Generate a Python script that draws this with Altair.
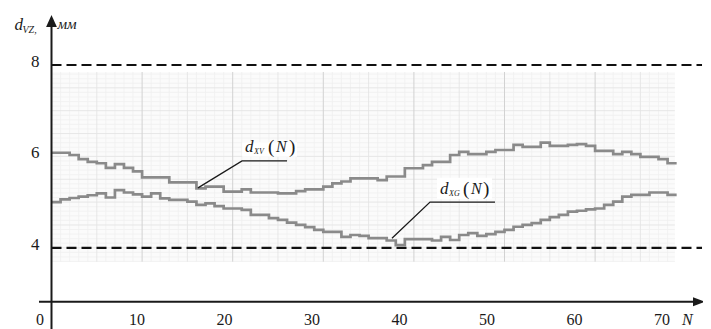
import altair as alt
import numpy as np
import pandas as pd

# ---------------- data ----------------
N = list(range(70))
d_xv = [6.08, 6.08, 6.03, 5.94, 5.88, 5.85, 5.75, 5.83, 5.75, 5.67,
        5.54, 5.54, 5.54, 5.43, 5.43, 5.43, 5.30, 5.34, 5.34, 5.23,
        5.23, 5.28, 5.21, 5.21, 5.21, 5.19, 5.19, 5.24, 5.28, 5.28,
        5.34, 5.41, 5.45, 5.52, 5.52, 5.52, 5.48, 5.56, 5.56, 5.74,
        5.74, 5.81, 5.88, 5.88, 6.03, 6.10, 6.05, 6.05, 6.10, 6.14,
        6.14, 6.25, 6.21, 6.21, 6.30, 6.23, 6.23, 6.25, 6.27, 6.23,
        6.12, 6.12, 6.05, 6.10, 6.05, 5.99, 5.99, 5.94, 5.85, 5.85]
d_xg = [5.00, 5.06, 5.09, 5.12, 5.15, 5.19, 5.10, 5.26, 5.21, 5.17,
        5.12, 5.19, 5.08, 5.05, 5.05, 5.01, 4.94, 4.97, 4.91, 4.86,
        4.86, 4.83, 4.72, 4.72, 4.65, 4.61, 4.55, 4.50, 4.45, 4.39,
        4.35, 4.35, 4.24, 4.28, 4.26, 4.21, 4.21, 4.16, 4.06, 4.19,
        4.19, 4.19, 4.16, 4.24, 4.17, 4.28, 4.32, 4.26, 4.30, 4.35,
        4.39, 4.46, 4.50, 4.54, 4.61, 4.67, 4.72, 4.79, 4.81, 4.84,
        4.86, 4.94, 5.01, 5.12, 5.16, 5.16, 5.21, 5.21, 5.16, 5.16]
x_tick_labels = [0, 10, 20, 30, 40, 50, 60, 70]
y_tick_labels = [4, 6, 8]
limits = [4, 8]

# ---------------- scales ----------------
XMIN, XMAX = -4.801, 71.909
YMIN, YMAX = 2.398, 9.247
xs = alt.Scale(domain=[XMIN, XMAX], nice=False, zero=False)
ys = alt.Scale(domain=[YMIN, YMAX], nice=False, zero=False)
FONT = "Liberation Serif, Times New Roman, DejaVu Serif, serif"
INK = "#1a1a1a"


def X(f="N"):
    return alt.X(f, type="quantitative", scale=xs, axis=None)


def Y(f="v"):
    return alt.Y(f, type="quantitative", scale=ys, axis=None)


# ---------------- grid (millimetre paper) ----------------
G_X0, G_X1, G_Y0, G_Y1 = 0.0, 68.8, 3.696, 7.847
bg = alt.Chart(pd.DataFrame({"a": [G_X0], "b": [G_X1], "c": [G_Y0], "d": [G_Y1]})).mark_rect(
    color="#fbfbfb").encode(x=X("a"), x2="b", y=Y("c"), y2="d")


def vgrid(vals, color, w):
    df = pd.DataFrame({"N": vals, "y1": G_Y0, "y2": G_Y1})
    return alt.Chart(df).mark_rule(color=color, strokeWidth=w).encode(x=X("N"), y=Y("y1"), y2="y2")


def hgrid(vals, color, w):
    df = pd.DataFrame({"v": vals, "x1": G_X0, "x2": G_X1})
    return alt.Chart(df).mark_rule(color=color, strokeWidth=w).encode(y=Y("v"), x=X("x1"), x2="x2")


vmin = [n for n in np.arange(1, 69, 1.0) if n % 5 != 0]
vmid = [n for n in np.arange(5, 69, 5.0) if n % 10 != 0]
vmaj = list(np.arange(10, 69, 10.0))
hmin = [round(v, 2) for v in np.arange(3.7, 7.85, 0.1) if round(v * 10) % 5 != 0]
hmid = [round(v, 2) for v in np.arange(4.0, 7.85, 0.5)]

grid = [bg,
        vgrid(vmin, "#f0f0f0", 0.8), hgrid(hmin, "#f0f0f0", 0.8),
        vgrid(vmid, "#e4e4e4", 0.9), hgrid(hmid, "#e4e4e4", 0.9),
        vgrid(vmaj, "#d2d2d2", 1.0)]

# ---------------- curves ----------------
curves_df = pd.concat([
    pd.DataFrame({"N": N, "v": d_xv, "s": "xv"}),
    pd.DataFrame({"N": N, "v": d_xg, "s": "xg"}),
])
curves = alt.Chart(curves_df).mark_line(
    interpolate="step-after", color="#8a8a8a", strokeWidth=2.7
).encode(x=X("N"), y=Y("v"), detail="s:N")

# ---------------- dashed limit lines ----------------
lim_df = pd.DataFrame({"v": limits, "x1": 0.0, "x2": 71.8})
lims = alt.Chart(lim_df).mark_rule(color="#111111", strokeWidth=2.2, strokeDash=[10, 5]).encode(
    y=Y("v"), x=X("x1"), x2="x2")

# ---------------- axes ----------------
AX_Y = 2.821
xaxis = alt.Chart(pd.DataFrame({"x1": [-1.38], "x2": [71.0], "v": [AX_Y]})).mark_rule(
    color=INK, strokeWidth=2).encode(x=X("x1"), x2="x2", y=Y("v"))
yaxis = alt.Chart(pd.DataFrame({"N": [0.0], "y1": [2.222], "y2": [8.9]})).mark_rule(
    color=INK, strokeWidth=2).encode(x=X("N"), y=Y("y1"), y2="y2")
arrow_up = alt.Chart(pd.DataFrame({"N": [0.0], "v": [8.963]})).mark_point(
    shape="M0,-1L0.9,1L-0.9,1Z", filled=True, size=144, color=INK, opacity=1, strokeWidth=0
).encode(x=X("N"), y=Y("v"))
arrow_right = alt.Chart(pd.DataFrame({"N": [71.47], "v": [AX_Y]})).mark_point(
    shape="M1,0L-1,0.75L-1,-0.75Z", filled=True, size=144, color=INK, opacity=1, strokeWidth=0
).encode(x=X("N"), y=Y("v"))


def label(s, n, v, dx, dy, size, italic=True, align="left"):
    return alt.Chart(pd.DataFrame({"N": [n], "v": [v]})).mark_text(
        text=s, dx=dx, dy=dy, fontSize=size, font=FONT,
        fontStyle="italic" if italic else "normal",
        align=align, baseline="alphabetic", color=INK
    ).encode(x=X("N"), y=Y("v"))


# x tick labels (label spacing in the source is slightly tighter than the grid)
xt_df = pd.DataFrame({"L": x_tick_labels})
xticks = alt.Chart(xt_df).transform_filter("datum.L > 0").transform_calculate(
    pos="(49.5 + 8.75 * datum.L - 51.5) / 9.06", v=str(AX_Y)
).mark_text(fontSize=16, font=FONT, align="center", baseline="alphabetic", dy=23, color=INK).encode(
    x=X("pos"), y=Y("v"), text="L:N")
xtick0 = alt.Chart(xt_df).transform_filter("datum.L == 0").transform_calculate(
    v=str(AX_Y)
).mark_text(fontSize=16, font=FONT, align="center", baseline="alphabetic", dy=23, dx=-11.5,
            color=INK).encode(x=X("L"), y=Y("v"), text="L:N")

yt_df = pd.DataFrame({"v": y_tick_labels})
yticks = alt.Chart(yt_df).transform_calculate(N="0").mark_text(
    fontSize=17, font=FONT, align="right", baseline="alphabetic", dx=-12, dy=2, color=INK
).encode(x=X("N"), y=Y("v"), text="v:N")

axis_titles = [
    label("d", 0, 9.0, -37, 11, 17),
    label("VZ,", 0, 9.0, -29, 14, 10),
    label("мм", 0, 9.0, 6, 10, 15),
    label("N", 71.47, AX_Y, -17, 23, 16),
]

# ---------------- curve annotations ----------------
lead1 = pd.DataFrame({"N": [16.17, 21.03, 26.0], "v": [5.31, 5.90, 5.90], "o": [0, 1, 2]})
lead2 = pd.DataFrame({"N": [37.58, 41.78, 48.95], "v": [4.21, 5.00, 5.00], "o": [0, 1, 2]})
leaders = [alt.Chart(d).mark_line(color=INK, strokeWidth=1.3).encode(x=X("N"), y=Y("v"), order="o:Q")
           for d in (lead1, lead2)]
boxes = alt.Chart(pd.DataFrame({"a": [21.05, 42.55], "b": [27.1, 48.62],
                                "c": [5.99, 5.07], "d": [6.31, 5.53]})).mark_rect(
    color="white").encode(x=X("a"), x2="b", y=Y("c"), y2="d")

ann = [
    label("d", 21.03, 5.90, 3, -9, 17), label("XV", 21.03, 5.90, 12, -7, 8),
    label("(", 21.03, 5.90, 26, -8, 19, italic=False), label("N", 21.03, 5.90, 34, -9, 16),
    label(")", 21.03, 5.90, 47, -8, 19, italic=False),
    label("d", 41.78, 5.00, 10, -8, 17), label("XG", 41.78, 5.00, 19, -6, 8),
    label("(", 41.78, 5.00, 33, -7, 19, italic=False), label("N", 41.78, 5.00, 41, -8, 16),
    label(")", 41.78, 5.00, 53, -7, 19, italic=False),
]

chart = alt.layer(
    *grid, lims, curves, boxes, *leaders, *ann,
    xaxis, yaxis, arrow_up, arrow_right, xticks, xtick0, yticks, *axis_titles
).properties(
    width=695, height=313,
    autosize=alt.AutoSizeParams(type="none"),
    padding={"left": 0, "top": 0, "right": 0, "bottom": 8},
).configure_view(stroke=None)

chart.save("out.html", embed_options={"renderer": "svg", "actions": False})
